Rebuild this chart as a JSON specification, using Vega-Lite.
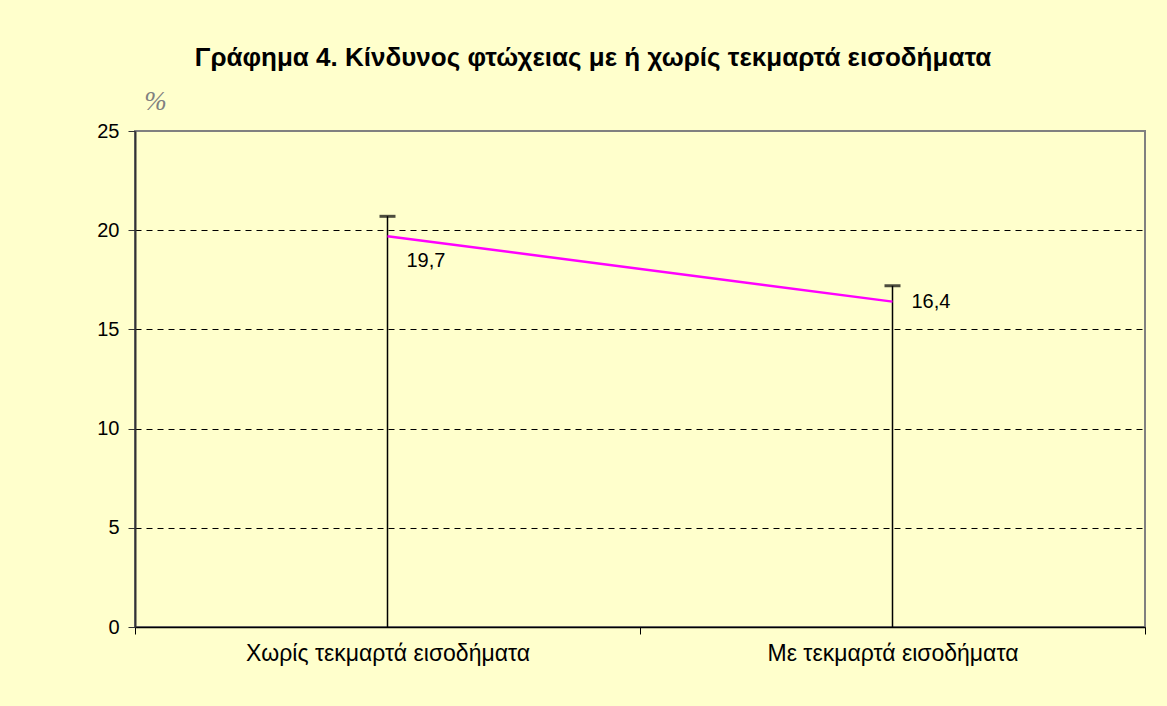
{
  "$schema": "https://vega.github.io/schema/vega-lite/v6.json",
  "width": 1010,
  "height": 496,
  "autosize": "none",
  "padding": {"left": 135, "top": 131, "right": 22, "bottom": 79},
  "background": "#FFFFCC",
  "title": {
    "text": "Γράφημα 4. Κίνδυνος φτώχειας με ή χωρίς τεκμαρτά εισοδήματα",
    "font": "Liberation Sans",
    "fontSize": 26,
    "fontWeight": "bold",
    "color": "#000000",
    "anchor": "middle",
    "dx": -47,
    "offset": 16
  },
  "config": {
    "view": {"stroke": "#808080", "strokeWidth": 2, "fill": "#FFFFCC"},
    "font": "Liberation Sans"
  },
  "data": {
    "values": [
      {"cat": "Χωρίς τεκμαρτά εισοδήματα", "value": 19.7, "upper": 20.7, "label": "19,7", "pos": "below"},
      {"cat": "Με τεκμαρτά εισοδήματα", "value": 16.4, "upper": 17.2, "label": "16,4", "pos": "right"}
    ]
  },
  "encoding": {
    "x": {
      "field": "cat",
      "type": "nominal",
      "sort": null,
      "scale": {"paddingInner": 0, "paddingOuter": 0},
      "axis": {
        "title": null,
        "labelAngle": 0,
        "labelFontSize": 23,
        "labelLimit": 0,
        "labelColor": "#000000",
        "labelPadding": 8,
        "tickBand": "extent",
        "tickSize": 7,
        "tickColor": "#000000",
        "domainColor": "#000000",
        "domainWidth": 1.5,
        "grid": false
      }
    }
  },
  "layer": [
    {
      "mark": {"type": "rule", "color": "#000000", "strokeWidth": 1.5},
      "encoding": {
        "y": {
          "field": "upper",
          "type": "quantitative",
          "scale": {"domain": [0, 25], "nice": false},
          "axis": {
            "values": [0, 5, 10, 15, 20, 25],
            "title": "%",
            "titleAngle": 0,
            "titleX": 20,
            "titleY": -30,
            "titleAlign": "center",
            "titleBaseline": "middle",
            "titleFont": "Liberation Serif",
            "titleFontStyle": "italic",
            "titleFontWeight": "normal",
            "titleFontSize": 27,
            "titleColor": "#808080",
            "labelFontSize": 20,
            "labelColor": "#000000",
            "labelPadding": 9,
            "tickSize": 7,
            "tickColor": "#333333",
            "domainColor": "#333333",
            "domainWidth": 2,
            "grid": true,
            "gridColor": "#000000",
            "gridDash": [6, 5],
            "gridWidth": 1,
            "gridOpacity": {"condition": {"test": "datum.value == 25", "value": 0}, "value": 1}
          }
        },
        "y2": {"datum": 0}
      }
    },
    {
      "mark": {"type": "tick", "color": "#000000", "size": 16, "thickness": 3, "orient": "horizontal"},
      "encoding": {"y": {"field": "upper", "type": "quantitative"}}
    },
    {
      "mark": {"type": "line", "color": "#FF00FF", "strokeWidth": 2.5},
      "encoding": {"y": {"field": "value", "type": "quantitative"}}
    },
    {
      "transform": [{"filter": "datum.pos == 'below'"}],
      "mark": {"type": "text", "align": "left", "baseline": "middle", "dx": 19, "dy": 25, "fontSize": 20, "color": "#000000"},
      "encoding": {"y": {"field": "value", "type": "quantitative"}, "text": {"field": "label"}}
    },
    {
      "transform": [{"filter": "datum.pos == 'right'"}],
      "mark": {"type": "text", "align": "left", "baseline": "middle", "dx": 19, "dy": 0, "fontSize": 20, "color": "#000000"},
      "encoding": {"y": {"field": "value", "type": "quantitative"}, "text": {"field": "label"}}
    }
  ]
}
